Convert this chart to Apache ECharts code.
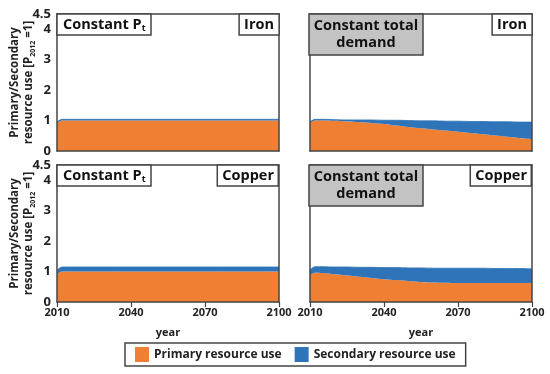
<!DOCTYPE html>
<html><head><meta charset="utf-8">
<script src="https://cdn.jsdelivr.net/npm/echarts@6/dist/echarts.min.js"></script>
<style>html,body{margin:0;padding:0;background:#fff}#c{width:550px;height:374px}</style>
</head><body><div id="c"></div>
<script>
// ---------- data ----------
const years = [2010, 2012, 2015, 2020, 2025, 2030, 2035, 2040, 2045, 2050, 2055, 2060, 2065, 2070, 2075, 2080, 2085, 2090, 2095, 2100];
const xTicks = [2010, 2040, 2070, 2100];
const yTicks = [0, 1, 2, 3, 4, 4.5];

const ironPtPrimary   = [0.92, 1.00, 1.00, 1.00, 1.00, 1.00, 1.00, 1.00, 1.00, 1.00, 1.00, 1.00, 1.00, 1.00, 1.00, 1.00, 1.00, 1.00, 1.00, 1.00];
const ironPtSecondary = [0.03, 0.04, 0.04, 0.04, 0.04, 0.04, 0.04, 0.04, 0.04, 0.04, 0.04, 0.04, 0.04, 0.04, 0.04, 0.04, 0.04, 0.04, 0.04, 0.04];

const ironCtdPrimary   = [0.92, 1.00, 1.00, 0.99, 0.97, 0.95, 0.92, 0.89, 0.84, 0.79, 0.75, 0.71, 0.67, 0.63, 0.59, 0.55, 0.51, 0.47, 0.43, 0.39];
const ironCtdSecondary = [0.03, 0.04, 0.04, 0.04, 0.05, 0.07, 0.10, 0.12, 0.17, 0.21, 0.24, 0.28, 0.31, 0.35, 0.38, 0.42, 0.45, 0.49, 0.52, 0.56];

const copperPtPrimary   = [0.92, 1.00, 1.00, 1.00, 1.00, 1.00, 1.00, 1.00, 1.00, 1.00, 1.00, 1.00, 1.00, 1.00, 1.00, 1.00, 1.00, 1.00, 1.00, 1.00];
const copperPtSecondary = [0.12, 0.15, 0.15, 0.15, 0.15, 0.15, 0.15, 0.15, 0.15, 0.15, 0.15, 0.15, 0.15, 0.15, 0.15, 0.15, 0.15, 0.15, 0.15, 0.15];

const copperCtdPrimary   = [0.88, 0.96, 0.95, 0.91, 0.87, 0.83, 0.79, 0.75, 0.72, 0.69, 0.66, 0.64, 0.63, 0.62, 0.62, 0.62, 0.62, 0.62, 0.62, 0.62];
const copperCtdSecondary = [0.17, 0.20, 0.21, 0.24, 0.28, 0.31, 0.35, 0.38, 0.41, 0.43, 0.46, 0.47, 0.48, 0.49, 0.49, 0.49, 0.48, 0.48, 0.48, 0.47];

const seriesNames = ['Primary resource use', 'Secondary resource use'];
const scenarioLabels = ['Constant P{sub|t}', '{c|Constant total}\n{c|demand}'];
const metalLabels = ['Iron', 'Copper'];
const yAxisName = 'Primary/Secondary\nresource use [P{sub|2012} =1]';
const xAxisName = 'year';

// ---------- layout ----------
const ORANGE = '#ef7f33', BLUE = '#2f74b8', EDGE = '#444444';
const FONT = 'Open Sans';
const W = 'bold';
const panels = [
  {left: 57, right: 271, top: 14, bottom: 223, p: ironPtPrimary, s: ironPtSecondary, scen: 0, metal: 0, showY: true, showX: false},
  {left: 310, right: 18, top: 14, bottom: 223, p: ironCtdPrimary, s: ironCtdSecondary, scen: 1, metal: 0, showY: false, showX: false},
  {left: 57, right: 271, top: 165, bottom: 72, p: copperPtPrimary, s: copperPtSecondary, scen: 0, metal: 1, showY: true, showX: true},
  {left: 310, right: 18, top: 165, bottom: 72, p: copperCtdPrimary, s: copperCtdSecondary, scen: 1, metal: 1, showY: false, showX: true}
];

const grid = [], xAxis = [], yAxis = [], series = [], title = [];
// value first, year second (encode maps x to column 1) so stacking acts on the y values
const pair = (arr) => years.map((y, i) => [arr[i], y]);

panels.forEach((pn, i) => {
  grid.push({left: pn.left, right: pn.right, top: pn.top, bottom: pn.bottom, containLabel: false});
  xAxis.push({
    type: 'value', gridIndex: i, min: xTicks[0], max: xTicks[xTicks.length - 1], interval: 30,
    axisLine: {show: true, onZero: false, lineStyle: {color: EDGE, width: 1.5}},
    axisTick: {show: pn.showX, length: 5, lineStyle: {color: EDGE, width: 1.2}},
    axisLabel: {show: pn.showX, fontFamily: FONT, fontWeight: W, fontSize: 11, color: '#222', margin: 5,
      formatter: (v) => String(v)},
    splitLine: {show: false},
    name: pn.showX ? xAxisName : '', nameLocation: 'middle', nameGap: 25, nameMoveOverlap: false,
    nameTextStyle: {fontFamily: FONT, fontWeight: W, fontSize: 11, color: '#222'},
    z: 5
  });
  // left axis
  yAxis.push({
    type: 'value', gridIndex: i, min: 0, max: yTicks[yTicks.length - 1], interval: 1,
    axisLine: {show: true, onZero: false, lineStyle: {color: EDGE, width: 1.5}},
    axisTick: {show: false},
    axisLabel: {show: pn.showY, fontFamily: FONT, fontWeight: W, fontSize: 13, color: '#222', margin: 6},
    splitLine: {show: false},
    name: pn.showY ? yAxisName : '', nameLocation: 'middle', nameRotate: 90, nameGap: 21, nameMoveOverlap: false,
    nameTextStyle: {fontFamily: FONT, fontWeight: W, fontSize: 11.5, color: '#222', lineHeight: 14,
      rich: {sub: {fontFamily: FONT, fontWeight: W, fontSize: 7, color: '#222', verticalAlign: 'bottom', lineHeight: 14}}},
    z: 5
  });
  // right border axis
  yAxis.push({
    type: 'value', gridIndex: i, min: 0, max: yTicks[yTicks.length - 1], position: 'right',
    axisLine: {show: true, onZero: false, lineStyle: {color: EDGE, width: 1.5}},
    axisTick: {show: false}, axisLabel: {show: false}, splitLine: {show: false}, z: 5
  });
  // top border axis
  xAxis.push({
    type: 'value', gridIndex: i, min: xTicks[0], max: xTicks[xTicks.length - 1], position: 'top',
    axisLine: {show: true, onZero: false, lineStyle: {color: EDGE, width: 1.5}},
    axisTick: {show: false}, axisLabel: {show: false}, splitLine: {show: false}, z: 5
  });
  const xi = i * 2, yi = i * 2;
  [pn.p, pn.s].forEach((arr, k) => {
    series.push({
      name: seriesNames[k], type: 'line', xAxisIndex: xi, yAxisIndex: yi, stack: 'g' + i,
      encode: {x: 1, y: 0},
      data: pair(arr), showSymbol: false, symbol: 'none', smooth: 0.3,
      lineStyle: {width: k === 1 ? 0.8 : 0, color: k ? BLUE : ORANGE},
      itemStyle: {color: k ? BLUE : ORANGE},
      areaStyle: {color: k ? BLUE : ORANGE, opacity: 1},
      silent: true, animation: false, z: 2
    });
  });
  // titles
  const box = {fontFamily: FONT, fontWeight: W, fontSize: 14.5, color: '#111', lineHeight: 17,
    rich: {
      sub: {fontFamily: FONT, fontWeight: W, fontSize: 9, color: '#111', verticalAlign: 'bottom', lineHeight: 13},
      c: {fontFamily: FONT, fontWeight: W, fontSize: 14.5, color: '#111', lineHeight: 17, width: 102, align: 'center'}
    }};
  if (pn.scen === 0) {
    title.push({text: scenarioLabels[0], left: pn.left, top: pn.top, padding: [2, 6, 2, 6],
      backgroundColor: '#fff', borderColor: EDGE, borderWidth: 1.5, textStyle: box, z: 10});
  } else {
    title.push({text: scenarioLabels[1], left: pn.left, top: pn.top, padding: [3, 5, 4, 5],
      backgroundColor: '#c3c3c3', borderColor: EDGE, borderWidth: 1.5, textStyle: box, z: 10});
  }
  title.push({text: metalLabels[pn.metal], right: pn.right, top: pn.top, padding: [2, 5, 2, 5],
    backgroundColor: '#fff', borderColor: EDGE, borderWidth: 1.5, textStyle: box, z: 10});
});

const chart = echarts.init(document.getElementById('c'), null, {renderer: 'canvas'});
chart.setOption({
  animation: false,
  backgroundColor: '#fff',
  title, grid, xAxis, yAxis, series,
  legend: {
    data: seriesNames.map(n => ({name: n, icon: 'rect'})),
    left: 125, top: 343, orient: 'horizontal',
    itemWidth: 14, itemHeight: 15, itemGap: 13,
    padding: [4, 10, 4, 10],
    borderColor: EDGE, borderWidth: 1.5,
    textStyle: {fontFamily: FONT, fontWeight: W, fontSize: 12, color: '#222'},
    selectedMode: false
  }
});
</script>
</body></html>
